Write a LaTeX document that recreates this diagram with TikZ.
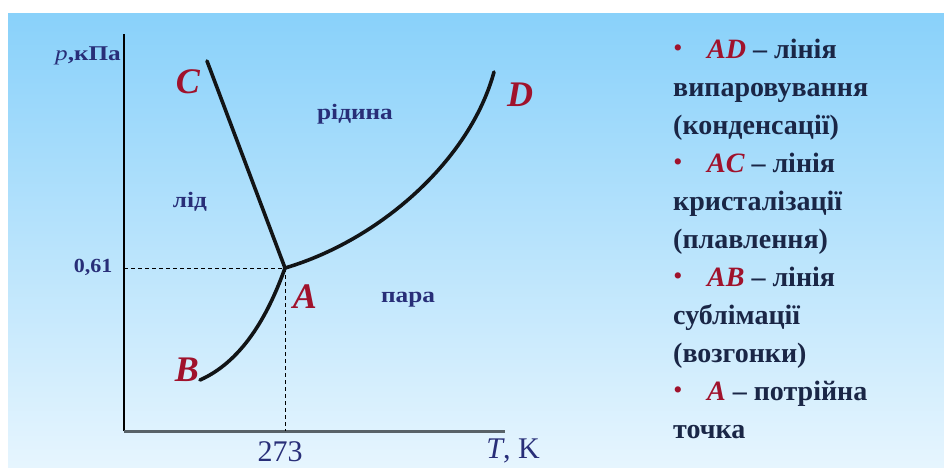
\documentclass[tikz,border=0pt]{standalone}
\usepackage{fontspec}
\usepackage{graphicx}
\setmainfont{Liberation Serif}
\definecolor{bgtop}{RGB}{137,209,250}
\definecolor{bgbot}{RGB}{230,245,254}
\definecolor{navy}{RGB}{40,46,120}
\definecolor{ink}{RGB}{26,38,70}
\definecolor{ptred}{RGB}{160,18,44}
\definecolor{curvecol}{RGB}{18,20,22}
\definecolor{xaxis}{RGB}{88,98,104}
\tikzset{
  curve/.style={draw=curvecol,line width=3.6pt,line cap=round},
  guide/.style={draw=black,line width=0.7pt,dash pattern=on 4pt off 3pt},
  ptlbl/.style={inner sep=0pt,text=ptred,font=\fontsize{36}{40}\selectfont\bfseries\itshape},
  phase/.style={inner sep=0pt,anchor=base,text=navy,font=\fontsize{22}{24}\selectfont\bfseries},
  axlbl/.style={inner sep=0pt,text=navy},
  listline/.style={inner sep=0pt,anchor=base west,text=ink,font=\fontsize{28}{30}\selectfont\bfseries},
  bul/.style={inner sep=0pt,anchor=base,text=ptred,font=\fontsize{26}{28}\selectfont}
}
\newcommand{\redit}[1]{\textcolor{ptred}{\itshape #1}}
\begin{document}
\begin{tikzpicture}[x=1pt,y=-1pt]
\useasboundingbox (0,0) rectangle (944,467);
\fill[white] (0,0) rectangle (944,467);
\shade[top color=bgtop,bottom color=bgbot] (8,13) rectangle (944,467);
% axes
\coordinate (O) at (124,431);
\coordinate (Ytop) at (124,34);
\coordinate (Xend) at (505,431);
\draw[black,line width=2pt] (O) -- (Ytop);
\draw[xaxis,line width=3pt] (O) -- (Xend);
% key points
\coordinate (A) at (285,268);
\coordinate (C) at (207,61);
\coordinate (D) at (494,72);
\coordinate (B) at (200,380);
\coordinate (Yp) at (124,268);
\coordinate (Xt) at (285,431);
\draw[guide] (Yp) -- (A);
\draw[guide] (A) -- (Xt);
\draw[curve] (A) -- (C);
\draw[curve] (A) .. controls (380,240) and (470,160) .. (D);
\draw[curve] (A) .. controls (270,310) and (245,360) .. (B);
% point labels
\node[ptlbl] (lC) at (188,82) {C};
\node[ptlbl] (lD) at (520,95) {D};
\node[ptlbl] (lA) at (305,297) {A};
\node[ptlbl] (lB) at (187,370) {B};
% phase labels
\node[phase] (liquid) at (355,119) {\scalebox{1.15}[1]{рідина}};
\node[phase] (ice) at (190,207) {\scalebox{1.15}[1]{лід}};
\node[phase] (vapour) at (408,302) {\scalebox{1.15}[1]{пара}};
% axis labels
\node[axlbl,anchor=base east] (plab) at (121,60) {\fontsize{21}{23}\selectfont\scalebox{1.2}[1]{\itshape p\upshape\bfseries,кПа}};
\node[axlbl,anchor=base] (p061) at (93,272) {\fontsize{20}{22}\selectfont\bfseries\scalebox{1.1}[1]{0,61}};
\node[axlbl,anchor=base] (t273) at (280,461) {\fontsize{30}{32}\selectfont 273};
\node[axlbl,anchor=base] (tlab) at (513,458) {\fontsize{30}{32}\selectfont\itshape T\upshape, K};
% legend
\node[bul] (b1) at (678,56) {•};
\node[listline] (l1) at (707,58) {\redit{AD} – лінія};
\node[listline] (l2) at (673,96) {випаровування};
\node[listline] (l3) at (673,134) {(конденсації)};
\node[bul] (b2) at (678,170) {•};
\node[listline] (l4) at (707,172) {\redit{AC} – лінія};
\node[listline] (l5) at (673,210) {кристалізації};
\node[listline] (l6) at (673,248) {(плавлення)};
\node[bul] (b3) at (678,284) {•};
\node[listline] (l7) at (707,286) {\redit{AB} – лінія};
\node[listline] (l8) at (673,324) {сублімації};
\node[listline] (l9) at (673,362) {(возгонки)};
\node[bul] (b4) at (678,398) {•};
\node[listline] (l10) at (707,400) {\redit{A} – потрійна};
\node[listline] (l11) at (673,438) {точка};
\end{tikzpicture}
\end{document}
